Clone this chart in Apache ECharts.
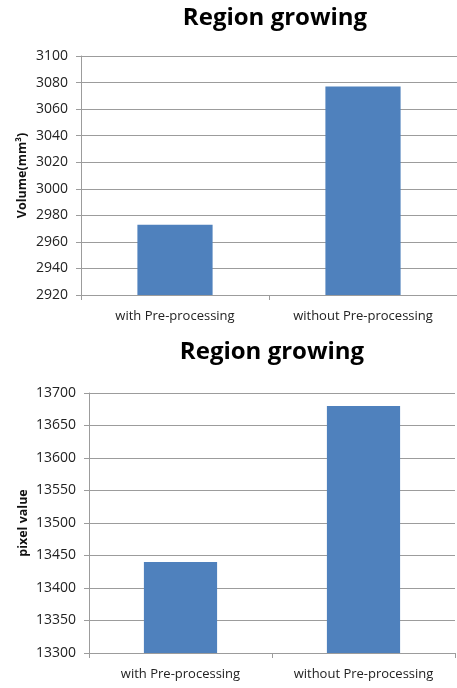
<!DOCTYPE html>
<html><head><meta charset="utf-8">
<script src="https://cdn.jsdelivr.net/npm/echarts@6/dist/echarts.min.js"></script>
<style>html,body{margin:0;padding:0;background:#fff}#c{width:457px;height:688px}</style>
</head><body><div id="c"></div>
<script>
const categories = ['with Pre-processing', 'without Pre-processing'];
const volumeValues = [2973, 3077];
const pixelValues = [13440, 13680];
const chartTitle = 'Region growing';
const volumeAxisName = 'Volume(mm³)';
const pixelAxisName = 'pixel value';

const font = 'Open Sans';
const gridColor = '#9c9c9c';
const barColor = '#4F81BD';

function xAxis(gi) {
  return {
    type: 'category', gridIndex: gi, data: categories,
    axisLine: { lineStyle: { color: gridColor, width: 1 } },
    axisTick: { show: true, length: 5, alignWithLabel: false, lineStyle: { color: gridColor } },
    axisLabel: { color: '#222', fontFamily: font, fontSize: 13, margin: 15 }
  };
}
function yAxis(gi, min, max, interval, name, gap) {
  return {
    type: 'value', gridIndex: gi, min: min, max: max, interval: interval,
    name: name, nameLocation: 'middle', nameRotate: 90, nameGap: gap,
    nameMoveOverlap: false,
    nameTextStyle: { fontFamily: font, fontWeight: 'bold', fontSize: 12.5, color: '#111' },
    axisLine: { show: true, lineStyle: { color: gridColor, width: 1 } },
    axisTick: { show: true, length: 5, lineStyle: { color: gridColor } },
    axisLabel: { color: '#222', fontFamily: font, fontSize: 14, margin: 13,
      formatter: function (v) { return String(v); } },
    splitLine: { show: true, lineStyle: { color: gridColor, width: 1 } }
  };
}

const chart = echarts.init(document.getElementById('c'), null, { renderer: 'canvas' });
chart.setOption({
  animation: false,
  backgroundColor: '#fff',
  title: [
    { text: chartTitle, left: 275, top: 6, textAlign: 'center', padding: 0,
      textStyle: { fontFamily: font, fontWeight: 'bold', fontSize: 24, color: '#000' } },
    { text: chartTitle, left: 272, top: 340, textAlign: 'center', padding: 0,
      textStyle: { fontFamily: font, fontWeight: 'bold', fontSize: 24, color: '#000' } }
  ],
  grid: [
    { left: 81, top: 56, width: 378, height: 239 },
    { left: 89, top: 393, width: 366, height: 260 }
  ],
  xAxis: [xAxis(0), xAxis(1)],
  yAxis: [
    yAxis(0, 2920, 3100, 20, volumeAxisName, 52),
    yAxis(1, 13300, 13700, 50, pixelAxisName, 59)
  ],
  series: [
    { type: 'bar', xAxisIndex: 0, yAxisIndex: 0, data: volumeValues, barWidth: '40%',
      itemStyle: { color: barColor } },
    { type: 'bar', xAxisIndex: 1, yAxisIndex: 1, data: pixelValues, barWidth: '40%',
      itemStyle: { color: barColor } }
  ]
});
</script>
</body></html>
